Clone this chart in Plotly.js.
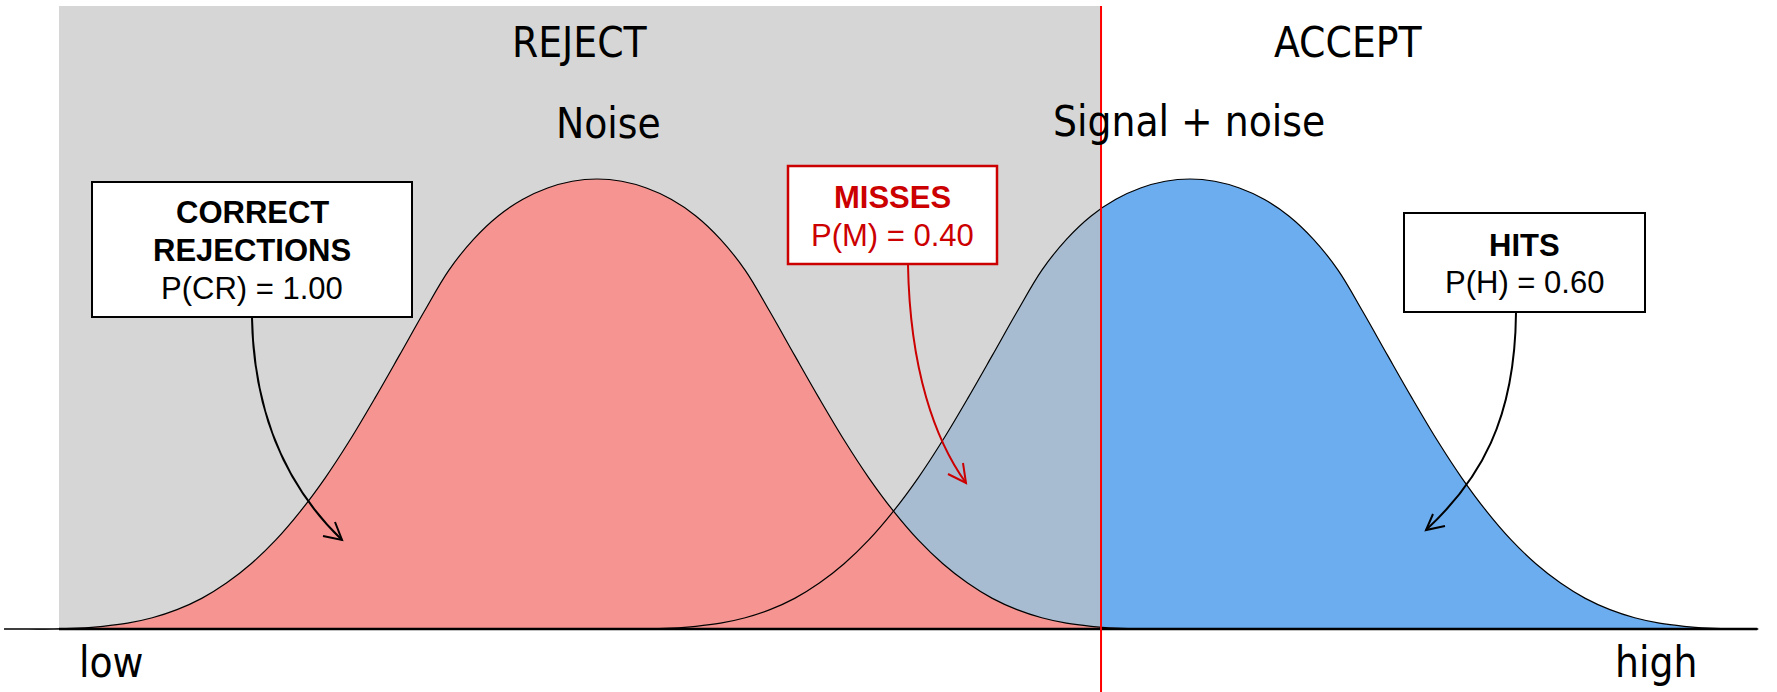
<!DOCTYPE html>
<html>
<head>
<meta charset="utf-8">
<script src="https://cdn.plot.ly/plotly-3.0.1.min.js"></script>
<style>html,body{margin:0;padding:0;background:#fff}#chart{width:1777px;height:692px}</style>
</head>
<body>
<div id="chart"></div>
<script>
// ---- data (decision axis, arbitrary units; heights relative to peak) ----
const xGrid = [0,0.25,0.5,0.75,1,1.25,1.5,1.75,2,2.25,2.5,2.75,3,3.25,3.5,3.75,4,4.25,4.5,4.75,5,5.25,5.5,5.75,
  6,6.25,6.5,6.75,7,7.25,7.5,7.75,8,8.25,8.5,8.75,9,9.25,9.5,9.75,10,10.25,10.5,10.75,11,11.25,11.5,11.75,
  12,12.25,12.5,12.75,13,13.25,13.5,13.75,14,14.25,14.5,14.75,15,15.25,15.5,15.75,16,16.25,16.5,16.75,17,17.25,17.5,17.75];
const noiseY = [0,0,0,0.002,0.006,0.013,0.025,0.043,0.068,0.102,0.145,0.198,0.262,0.336,0.420,0.512,0.608,0.705,0.797,0.866,0.918,0.955,0.980,0.995,
  1.000,0.995,0.980,0.955,0.918,0.866,0.797,0.705,0.608,0.512,0.420,0.336,0.262,0.198,0.145,0.102,0.068,0.043,0.025,0.013,0.006,0.002,0,0,
  0,0,0,0,0,0,0,0,0,0,0,0,0,0,0,0,0,0,0,0,0,0,0,0];
const signalY = [0,0,0,0,0,0,0,0,0,0,0,0,0,0,0,0,0,0,0,0,0,0,0,0,
  0,0,0,0.002,0.006,0.013,0.025,0.043,0.068,0.102,0.145,0.198,0.262,0.336,0.420,0.512,0.608,0.705,0.797,0.866,0.918,0.955,0.980,0.995,
  1.000,0.995,0.980,0.955,0.918,0.866,0.797,0.705,0.608,0.512,0.420,0.336,0.262,0.198,0.145,0.102,0.068,0.043,0.025,0.013,0.006,0.002,0,0];
const criterion = 11.1;
const regionLabels = ['REJECT', 'ACCEPT'];
const curveLabels = ['Noise', 'Signal + noise'];
const axisEnds = ['low', 'high'];
const outcomeNames = ['CORRECT', 'REJECTIONS', 'MISSES', 'HITS'];
const outcomeProbs = ['P(CR) = 1.00', 'P(M) = 0.40', 'P(H) = 0.60'];

// ---- layout helpers ----
const W = 1777, H = 692;
const xRange = [-0.041, 17.94];
const yRange = [-0.14, 1.3978];
const grayLeft = 0.556, grayTop = 1.3844, axisRight = 17.74;
function P(x, y) { return (x / W).toFixed(5) + ',' + (1 - y / H).toFixed(5); }
function ann(text, x, y, font) {
  return {text: text, x: x / W, y: 1 - y / H, xref: 'paper', yref: 'paper',
          xanchor: 'center', yanchor: 'middle', showarrow: false, font: font};
}
function rect(x0, y0, x1, y1, color, w) {
  return {type: 'rect', xref: 'paper', yref: 'paper', x0: x0 / W, x1: x1 / W, y0: 1 - y1 / H, y1: 1 - y0 / H,
          line: {color: color, width: w}, fillcolor: '#ffffff', layer: 'above'};
}
function curve(pts, color) {
  return {type: 'path', xref: 'paper', yref: 'paper', layer: 'above',
    path: 'M ' + P(pts[0][0], pts[0][1]) + ' C ' + P(pts[1][0], pts[1][1]) + ' ' + P(pts[2][0], pts[2][1]) + ' ' + P(pts[3][0], pts[3][1]),
    line: {color: color, width: 2}};
}
function head(a, tip, b, color) {
  return {type: 'path', xref: 'paper', yref: 'paper', layer: 'above',
    path: 'M ' + P(a[0], a[1]) + ' L ' + P(tip[0], tip[1]) + ' L ' + P(b[0], b[1]),
    line: {color: color, width: 2}};
}

const bigFont = {family: '"DejaVu Sans Condensed", "Liberation Sans Narrow", sans-serif', size: 42, color: '#000'};
const boxFont = {family: '"Liberation Sans", Arial, sans-serif', size: 31, color: '#000'};
const missFont = {family: '"Liberation Sans", Arial, sans-serif', size: 31, color: '#CC0000'};
const red = '#CC0000';
const sp = {shape: 'spline', smoothing: 1};

const traces = [
  {x: xGrid, y: signalY, mode: 'lines', line: Object.assign({width: 0}, sp),
   fill: 'tozeroy', fillcolor: '#6CADF0', hoverinfo: 'skip'},
  {x: [grayLeft, criterion, criterion, grayLeft, grayLeft], y: [0, 0, grayTop, grayTop, 0], mode: 'lines',
   line: {width: 0}, fill: 'toself', fillcolor: 'rgba(194,194,194,0.68)', hoverinfo: 'skip'},
  {x: xGrid, y: noiseY, mode: 'lines', line: Object.assign({width: 0}, sp),
   fill: 'tozeroy', fillcolor: '#F59490', hoverinfo: 'skip'},
  {x: xGrid, y: noiseY, mode: 'lines', line: Object.assign({width: 1.2, color: '#000'}, sp), hoverinfo: 'skip'},
  {x: xGrid, y: signalY, mode: 'lines', line: Object.assign({width: 1.2, color: '#000'}, sp), hoverinfo: 'skip'}
];

const layout = {
  width: W, height: H,
  margin: {l: 0, r: 0, t: 0, b: 0, pad: 0},
  paper_bgcolor: '#ffffff', plot_bgcolor: '#ffffff',
  showlegend: false,
  xaxis: {range: xRange, visible: false, fixedrange: true},
  yaxis: {range: yRange, visible: false, fixedrange: true},
  shapes: [
    {type: 'line', xref: 'x', yref: 'y', x0: grayLeft, x1: axisRight, y0: 0, y1: 0, line: {color: '#000', width: 2.5}, layer: 'above'},
    {type: 'line', xref: 'x', yref: 'paper', x0: criterion, x1: criterion, y0: 0, y1: 1 - 6 / H, line: {color: '#FF0000', width: 2}, layer: 'above'},
    rect(92, 182, 412, 317, '#000', 2),
    rect(788, 166, 997, 264, red, 2.5),
    rect(1404, 213, 1645, 312, '#000', 2),
    curve([[252, 318], [254, 420], [290, 490], [342, 540]], '#000'),
    head([323, 536], [342, 540], [335, 522], '#000'),
    curve([[908, 265], [910, 370], [935, 440], [966, 483]], red),
    head([948, 474], [966, 483], [963, 463], red),
    curve([[1516, 313], [1515, 420], [1480, 480], [1426, 530]], '#000'),
    head([1445, 526], [1426, 530], [1433, 514], '#000')
  ],
  annotations: [
    ann(regionLabels[0], 580, 43, bigFont),
    ann(regionLabels[1], 1348, 43, bigFont),
    ann(curveLabels[0], 608, 123, bigFont),
    ann(curveLabels[1], 1189, 122, bigFont),
    ann(axisEnds[0], 112, 662, bigFont),
    ann(axisEnds[1], 1656, 662, bigFont),
    ann('<b>' + outcomeNames[0] + '</b>', 252, 212, boxFont),
    ann('<b>' + outcomeNames[1] + '</b>', 252, 250, boxFont),
    ann(outcomeProbs[0], 252, 288, boxFont),
    ann('<b>' + outcomeNames[2] + '</b>', 892, 197, missFont),
    ann(outcomeProbs[1], 892, 235, missFont),
    ann('<b>' + outcomeNames[3] + '</b>', 1524, 245, boxFont),
    ann(outcomeProbs[2], 1524, 282, boxFont)
  ]
};

Plotly.newPlot('chart', traces, layout, {staticPlot: true, displayModeBar: false});
</script>
</body>
</html>
